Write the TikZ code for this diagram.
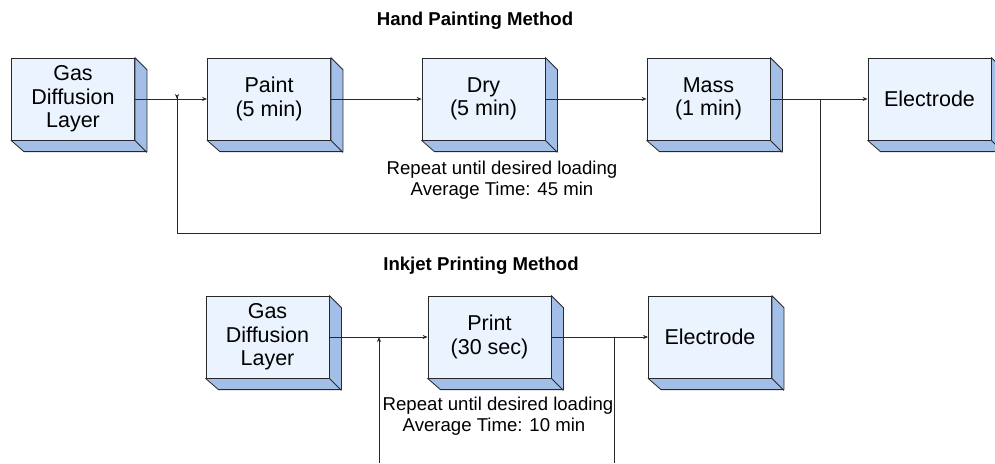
\documentclass[tikz,border=0pt]{standalone}
\usepackage{fontspec}
\setmainfont{Liberation Sans}
\usetikzlibrary{arrows.meta}
\definecolor{frontc}{RGB}{234,243,254}
\definecolor{sidec}{RGB}{163,191,232}
\definecolor{linec}{RGB}{40,40,40}
\begin{document}
\begin{tikzpicture}[x=1pt,y=-1pt,
  blk/.style={draw=linec, line width=0.8pt, fill=frontc, minimum width=123pt, minimum height=82pt,
    align=center, inner sep=0pt, font=\fontsize{21.5}{23.5}\selectfont},
  conn/.style={draw=linec, line width=0.7pt},
  arr/.style={conn, -{Stealth[length=5pt,width=4pt]}},
  ttl/.style={font=\bfseries\fontsize{18.6}{21}\selectfont},
  note/.style={align=center, font=\fontsize{18.6}{21}\selectfont, inner sep=0pt}]
\clip (0,0) rectangle (995,463);
\fill[white] (0,0) rectangle (995,463);
% titles
\node[ttl] (t1) at (475,21) {Hand Painting Method};
\node[ttl] (t2) at (481,266) {Inkjet Printing Method};
% top row
\node[blk] (gdl)   at (73,99)    {Gas\\Diffusion\\Layer};
\node[blk] (paint) at (269,99)   {Paint\\(5 min)};
\node[blk] (dry)   at (483.5,99) {Dry\\(5 min)};
\node[blk] (mass)  at (708.5,99) {Mass\\(1 min)};
\node[blk] (elec)  at (929.5,99) {Electrode};
% bottom row
\node[blk] (gdlb)  at (267.5,337) {Gas\\Diffusion\\Layer};
\node[blk] (print) at (489.5,337) {Print\\(30 sec)};
\node[blk] (elecb) at (710,337)   {Electrode};
% depth faces
\foreach \n in {gdl,paint,dry,mass,elec,gdlb,print,elecb}{
  \filldraw[fill=sidec, draw=linec, line width=0.8pt, line join=round]
    (\n.north east) -- ++(12,12) -- ++(0,82) -- ++(-123,0) -- (\n.south west) -- (\n.south east) -- cycle;
  \draw[linec, line width=0.8pt] (\n.south east) -- ++(12,12);
}
% notes
\node[note] (n1) at (502,180) {Repeat until desired loading\\Average Time: 45 min};
\node[note] (n2) at (498,416) {Repeat until desired loading\\\hspace*{-8pt}Average Time: 10 min};
% top connectors
\draw[arr] (gdl.east) -- (paint.west);
\draw[arr] (paint.east) -- (dry.west);
\draw[arr] (dry.east) -- (mass.west);
\draw[arr] (mass.east) -- (elec.west);
\coordinate (jl) at (177,99);
\coordinate (jr) at (820,99);
\coordinate (jb) at (820,233);
\draw[conn] (jr) -- (jb) -| ([yshift=4pt]jl);
\draw[arr] ([yshift=4pt]jl) -- (jl);
% bottom connectors
\draw[arr] (gdlb.east) -- (print.west);
\draw[arr] (print.east) -- (elecb.west);
\coordinate (bl) at (379,337);
\coordinate (bls) at (379,463);
\coordinate (br) at (614,337);
\coordinate (brs) at (614,463);
\draw[arr] (bls) -- (bl);
\draw[conn] (br) -- (brs);
\end{tikzpicture}
\end{document}
